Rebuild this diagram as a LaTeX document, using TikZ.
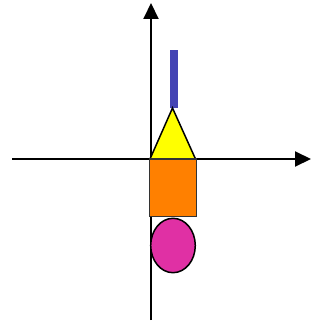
\documentclass[tikz,border=0pt]{standalone}
\usetikzlibrary{arrows.meta}
\definecolor{barblue}{RGB}{68,68,180}
\definecolor{triyellow}{RGB}{255,255,0}
\definecolor{boxorange}{RGB}{255,128,0}
\definecolor{ovalpink}{RGB}{224,48,164}
\tikzset{
  axis/.style={line width=2pt,-{Triangle[width=15pt,length=16pt]}},
  outline/.style={draw=black,line width=1.5pt,line join=miter}
}
\begin{document}
\begin{tikzpicture}[x=1pt,y=-1pt]
\useasboundingbox (0,0) rectangle (320,323);
% axes
\coordinate (xl) at (12,159);
\coordinate (xr) at (311,159);
\coordinate (yb) at (151,320);
\coordinate (yt) at (151,3);
\draw[axis] (xl) -- (xr);
\draw[axis] (yb) -- (yt);
% blue bar
\fill[barblue] (169.5,50) rectangle (177.5,108);
% triangle
\draw[outline,fill=triyellow] (150,159) -- (172.5,108) -- (195.5,159) -- cycle;
% orange box
\draw[draw=black!80,line width=1.2pt,fill=boxorange] (149.5,159) rectangle (196.5,216.5);
% ellipse
\draw[outline,fill=ovalpink] (173,245.5) ellipse [x radius=22.3, y radius=27.2];
\end{tikzpicture}
\end{document}
